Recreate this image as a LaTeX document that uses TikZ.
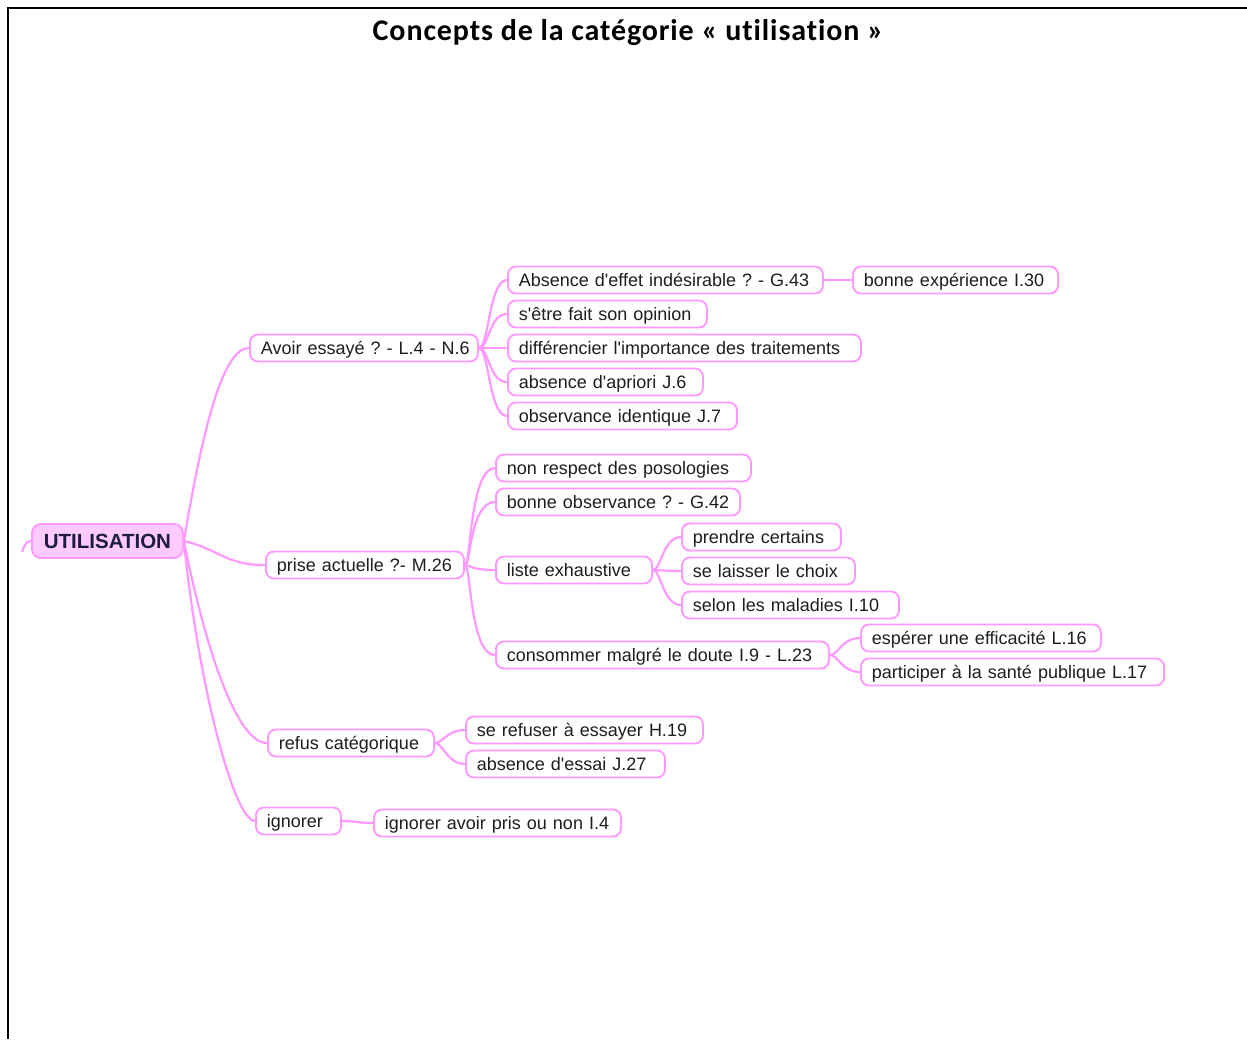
\documentclass[tikz,border=0pt]{standalone}
\usepackage{fontspec}
\setmainfont{Liberation Sans}
\newfontfamily\titlefont{Carlito}[LetterSpace=3,Ligatures=NoCommon]
\newfontfamily\nf{Liberation Sans}
\frenchspacing
\definecolor{mm}{HTML}{FF99FF}
\definecolor{mmfill}{HTML}{FFCAFF}
\definecolor{txt}{HTML}{1E1E1E}
\definecolor{roottxt}{HTML}{1C1C44}
\newcommand\lft[1]{\rlap{#1}}
\newcommand\q{\textquotesingle}
\newcommand\br[4]{\draw[edge] (#1.east) .. controls +(#3,0) and +(-#4,0) .. (#2.west);}
\tikzset{
  cbox/.style={draw=mm, line width=1.9pt, rounded corners=8pt, fill=white, anchor=west,
    minimum height=27pt, inner xsep=11pt, inner ysep=0pt, align=left,
    text height=17pt, text depth=4pt,
    font=\nf\fontsize{18}{20}\selectfont, text=txt},
  rootbox/.style={draw=mm, line width=1.9pt, rounded corners=9pt, fill=mmfill, anchor=west,
    minimum height=34pt, minimum width=151pt, inner sep=0pt,
    font=\nf\bfseries\fontsize{20.5}{22}\selectfont, text=roottxt},
  edge/.style={draw=mm, line width=2.2pt}
}
\begin{document}
\begin{tikzpicture}[x=1pt,y=1pt]
\useasboundingbox (0,0) rectangle (1247,-1039);
% frame
\draw[line width=2.2pt] (8,-1039) -- (8,-8) -- (1247,-8);
\node[font=\titlefont\bfseries\fontsize{30}{32}\selectfont, text=black] (title) at (628,-33) {Concepts de la catégorie « utilisation »};

% root
\node[rootbox] (root) at (31,-541) {UTILISATION};
\coordinate (frag) at (22,-552);

% level 1
\node[cbox, text width=206pt] (avoir) at (249,-348) {\lft{Avoir essayé ? - L.4 - N.6}};
\node[cbox, text width=176pt] (prise) at (265,-565) {\lft{prise actuelle ?- M.26}};
\node[cbox, text width=144pt] (refus) at (267,-743) {\lft{refus catégorique}};
\node[cbox, text width=63pt] (ign) at (255,-821) {\lft{ignorer}};

% avoir children
\node[cbox, text width=293pt] (a1) at (507,-280) {\lft{Absence d\q effet indésirable ? - G.43}};
\node[cbox, text width=177pt] (a2) at (507,-314) {\lft{s\q être fait son opinion}};
\node[cbox, text width=331pt] (a3) at (507,-348) {\lft{différencier l\q importance des traitements}};
\node[cbox, text width=173pt] (a4) at (507,-382) {\lft{absence d\q apriori J.6}};
\node[cbox, text width=207pt] (a5) at (507,-416) {\lft{observance identique J.7}};
\node[cbox, text width=183pt] (b1) at (852,-280) {\lft{bonne expérience I.30}};

% prise children
\node[cbox, text width=233pt] (p1) at (495,-468) {\lft{non respect des posologies}};
\node[cbox, text width=222pt] (p2) at (495,-502) {\lft{bonne observance ? - G.42}};
\node[cbox, text width=134pt] (p3) at (495,-570) {\lft{liste exhaustive}};
\node[cbox, text width=311pt] (p4) at (495,-655) {\lft{consommer malgré le doute I.9 - L.23}};

% liste children
\node[cbox, text width=137pt] (l1) at (681,-537) {\lft{prendre certains}};
\node[cbox, text width=151pt] (l2) at (681,-571) {\lft{se laisser le choix}};
\node[cbox, text width=195pt] (l3) at (681,-605) {\lft{selon les maladies I.10}};

% consommer children
\node[cbox, text width=218pt] (c1) at (860,-638) {\lft{espérer une efficacité L.16}};
\node[cbox, text width=281pt] (c2) at (860,-672) {\lft{participer à la santé publique L.17}};

% refus children
\node[cbox, text width=215pt] (r1) at (465,-730) {\lft{se refuser à essayer H.19}};
\node[cbox, text width=177pt] (r2) at (465,-764) {\lft{absence d\q essai J.27}};

% ignorer child
\node[cbox, text width=225pt] (i1) at (373,-823) {\lft{ignorer avoir pris ou non I.4}};

% connectors from root
\draw[edge] (root.east) .. controls +(20,120) and +(-25,0) .. (avoir.west);
\draw[edge] (root.east) .. controls +(35,-8) and +(-40,0) .. (prise.west);
\draw[edge] (root.east) .. controls +(22,-110) and +(-30,0) .. (refus.west);
\draw[edge] (root.east) .. controls +(15,-150) and +(-20,0) .. (ign.west);
\draw[edge] (root.west) .. controls +(-5,0) and +(2,6) .. (frag);

% second level
\br{avoir}{a1}{10}{18}
\br{avoir}{a2}{10}{18}
\br{avoir}{a3}{10}{18}
\br{avoir}{a4}{10}{18}
\br{avoir}{a5}{10}{18}
\draw[edge] (a1.east) -- (b1.west);
\br{prise}{p1}{6}{25}
\br{prise}{p2}{6}{25}
\br{prise}{p3}{6}{25}
\br{prise}{p4}{6}{25}
\br{p3}{l1}{8}{18}
\br{p3}{l2}{8}{18}
\br{p3}{l3}{8}{18}
\br{p4}{c1}{8}{18}
\br{p4}{c2}{8}{18}
\br{refus}{r1}{8}{18}
\br{refus}{r2}{8}{18}
\br{ign}{i1}{15}{15}
\end{tikzpicture}
\end{document}
